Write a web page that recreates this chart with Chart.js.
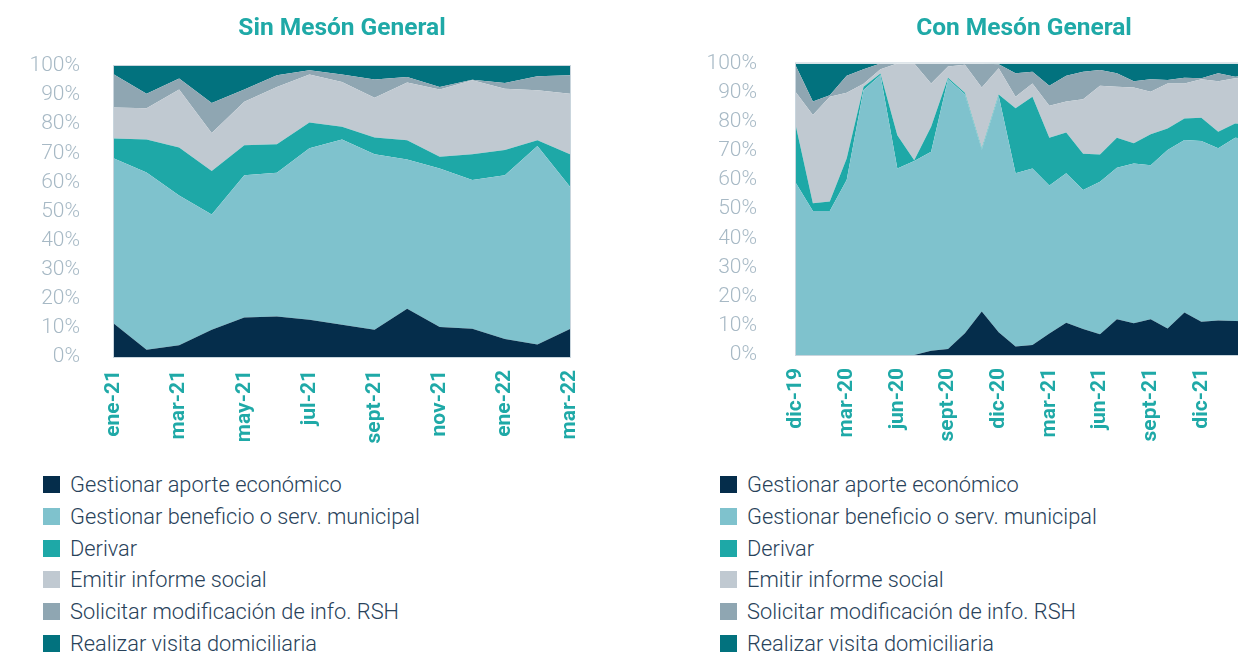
<!DOCTYPE html>
<html lang="es">
<head>
<meta charset="utf-8">
<title>Sin / Con Mesón General</title>
<script src="https://cdn.jsdelivr.net/npm/chart.js@4.4.1/dist/chart.umd.min.js"></script>
<style>
  html, body { margin: 0; padding: 0; background: #fff; overflow: hidden; }
  body { width: 1238px; height: 653px; position: relative; font-family: Roboto, "Noto Sans", sans-serif; }
  .panel { position: absolute; top: 0; width: 600px; height: 460px; }
  #sinPanel { left: 0; }
  #conPanel { left: 682px; }
  .legend { position: absolute; top: 469px; list-style: none; margin: 0; padding: 0; }
  #sinLegend { left: 43px; }
  #conLegend { left: 720px; }
  .legend li { height: 31.7px; display: flex; align-items: center; font-size: 21.8px; font-weight: 300; color: #28425a; white-space: nowrap; }
  .legend .sw { width: 17px; height: 17px; margin-right: 10px; flex: none; }
</style>
</head>
<body>
<div class="panel" id="sinPanel"><canvas id="sinChart" width="600" height="460"></canvas></div>
<div class="panel" id="conPanel"><canvas id="conChart" width="600" height="460"></canvas></div>
<ul class="legend" id="sinLegend"></ul>
<ul class="legend" id="conLegend"></ul>

<script>
// ====== Data ======
const seriesNames = [
    'Gestionar aporte económico',
    'Gestionar beneficio o serv. municipal',
    'Derivar',
    'Emitir informe social',
    'Solicitar modificación de info. RSH',
    'Realizar visita domiciliaria'
];

// Sin Mesón General (% por mes)
const sinLabels = ['ene-21', 'feb-21', 'mar-21', 'abr-21', 'may-21', 'jun-21', 'jul-21', 'ago-21',
    'sept-21', 'oct-21', 'nov-21', 'dic-21', 'ene-22', 'feb-22', 'mar-22'];
const sinAporte    = [11.4, 2.5, 4.0, 9.4, 13.6, 13.9, 12.8, 11.1, 9.4, 16.6, 10.3, 9.7, 6.2, 4.3, 9.6];
const sinBeneficio = [56.8, 60.9, 51.5, 39.6, 48.9, 49.4, 58.9, 63.6, 60.3, 51.3, 54.5, 51.1, 56.3, 68.2, 48.9];
const sinDerivar   = [6.9, 11.3, 16.5, 14.9, 10.3, 9.8, 8.9, 4.4, 5.7, 6.6, 4.0, 8.9, 8.6, 2.0, 11.2];
const sinInforme   = [10.6, 10.8, 19.9, 13.1, 14.9, 19.7, 16.5, 15.4, 13.7, 19.8, 23.1, 25.4, 21.1, 17.2, 20.8];
const sinRsh       = [11.4, 5.0, 3.8, 10.3, 4.2, 4.0, 1.4, 2.6, 6.3, 1.9, 0.9, 0.2, 2.0, 4.8, 6.3];
const sinVisita    = [2.9, 9.5, 4.3, 12.7, 8.1, 3.2, 1.5, 2.9, 4.6, 3.8, 7.2, 4.7, 5.8, 3.5, 3.2];

// Con Mesón General (% por mes)
const conLabels = ['dic-19', 'ene-20', 'feb-20', 'mar-20', 'abr-20', 'may-20', 'jun-20', 'jul-20',
    'ago-20', 'sept-20', 'oct-20', 'nov-20', 'dic-20', 'ene-21', 'feb-21', 'mar-21', 'abr-21',
    'may-21', 'jun-21', 'jul-21', 'ago-21', 'sept-21', 'oct-21', 'nov-21', 'dic-21', 'ene-22',
    'feb-22', 'mar-22'];
const conAporte    = [0, 0, 0, 0, 0, 0, 0, 0, 1.5, 2.1, 7.5, 14.9, 7.8, 2.9, 3.4, 7.4, 11.1, 8.9, 7.1, 12.3, 10.9, 12.3, 9.1, 14.6, 11.4, 11.8, 11.7, 11.5];
const conBeneficio = [58.9, 49.4, 49.4, 60.0, 90.9, 96.0, 64.0, 66.5, 68.2, 92.5, 81.9, 55.6, 81.1, 59.4, 60.6, 50.7, 51.2, 47.7, 52.3, 51.9, 54.8, 52.8, 61.2, 59.1, 62.0, 59.1, 62.8, 62.5];
const conDerivar   = [19.4, 2.6, 3.2, 7.4, 1.1, 0.5, 11.4, 0.3, 8.6, 0.5, 0.5, 0.4, 0.4, 22.3, 24.6, 16.4, 14.0, 12.4, 9.4, 10.3, 6.9, 10.6, 7.4, 7.4, 8.0, 5.7, 4.9, 5.0];
const conInforme   = [11.7, 30.3, 36.0, 22.5, 1.0, 1.5, 24.6, 33.2, 14.8, 3.8, 9.6, 20.8, 9.0, 4.0, 4.5, 11.0, 10.6, 18.7, 23.5, 17.5, 19.1, 14.6, 15.4, 12.0, 13.2, 17.3, 15.5, 16.0];
const conRsh       = [9.0, 4.6, 0.5, 5.9, 5.0, 2.0, 0, 0, 6.9, 1.1, 0.5, 8.3, 1.4, 8.0, 4.0, 6.8, 8.9, 9.4, 5.4, 4.6, 2.2, 4.3, 1.2, 2.0, 0.3, 2.7, 0.5, 1.0];
const conVisita    = [1.0, 13.1, 10.9, 4.2, 2.0, 0, 0, 0, 0, 0, 0, 0, 0.3, 3.4, 2.9, 7.7, 4.2, 2.9, 2.3, 3.4, 6.1, 5.4, 5.7, 4.9, 5.1, 3.4, 4.6, 4.0];

// ====== Styles ======
const seriesColors = ['#052d4b', '#7fc2cd', '#1ea8a7', '#c0c9d1', '#8fa6b2', '#02727e'];
const teal = '#1fa9a7';

// thin frame round the plot area
const frame = {
    id: 'frame',
    afterDatasetsDraw(chart) {
        const { ctx, chartArea: a } = chart;
        ctx.save();
        ctx.strokeStyle = '#c9d5dd';
        ctx.lineWidth = 1;
        ctx.strokeRect(a.left - 0.5, a.top - 0.5, a.right - a.left + 1, a.bottom - a.top + 1);
        ctx.restore();
    }
};

function buildChart(id, labels, series, cfg) {
    const datasets = series.map((data, i) => ({
        label: seriesNames[i],
        data: data,
        backgroundColor: seriesColors[i],
        borderColor: seriesColors[i],
        borderWidth: 0,
        pointRadius: 0,
        tension: 0,
        fill: i === 0 ? 'origin' : '-1'
    }));
    return new Chart(document.getElementById(id), {
        type: 'line',
        data: { labels, datasets },
        options: {
            responsive: false,
            animation: false,
            layout: { padding: { right: 30, bottom: 0 } },
            plugins: {
                legend: { display: false },
                tooltip: { enabled: false },
                title: {
                    display: true,
                    text: cfg.title,
                    fullSize: false,
                    color: teal,
                    font: { family: 'Roboto', size: 24.5, weight: 'bold', lineHeight: 1.2 },
                    padding: { top: 14, bottom: cfg.titleBottom }
                }
            },
            scales: {
                x: {
                    grid: { display: false, drawTicks: false },
                    border: { display: false },
                    ticks: {
                        autoSkip: false,
                        minRotation: 90,
                        maxRotation: 90,
                        padding: 13,
                        color: teal,
                        font: { family: 'Roboto', size: 21, weight: 'bold' },
                        callback: (v, i) => (i % cfg.every === 0 ? labels[i] : '')
                    },
                    afterFit: s => {
                        s.height = cfg.xHeight;
                        s.paddingLeft = 0;
                        s.paddingRight = 0;
                    }
                },
                y: {
                    stacked: true,
                    min: 0,
                    max: 100,
                    grid: { display: false, drawTicks: false },
                    border: { display: false },
                    ticks: {
                        stepSize: 10,
                        padding: cfg.yPad,
                        color: '#a7b9c5',
                        font: { family: 'Roboto', size: 21, weight: 300 },
                        callback: v => v + '%'
                    },
                    afterFit: s => { s.width = 114; }
                }
            }
        },
        plugins: [frame]
    });
}

buildChart('sinChart', sinLabels,
    [sinAporte, sinBeneficio, sinDerivar, sinInforme, sinRsh, sinVisita],
    { title: 'Sin Mesón General', titleBottom: 22.6, every: 2, xHeight: 103, yPad: 34 });

buildChart('conChart', conLabels,
    [conAporte, conBeneficio, conDerivar, conInforme, conRsh, conVisita],
    { title: 'Con Mesón General', titleBottom: 20, every: 3, xHeight: 105, yPad: 39 });

// ====== HTML legends ======
['sinLegend', 'conLegend'].forEach(id => {
    const ul = document.getElementById(id);
    seriesNames.forEach((name, i) => {
        const li = document.createElement('li');
        const sw = document.createElement('span');
        sw.className = 'sw';
        sw.style.background = seriesColors[i];
        li.appendChild(sw);
        li.appendChild(document.createTextNode(name));
        ul.appendChild(li);
    });
});
</script>
</body>
</html>
